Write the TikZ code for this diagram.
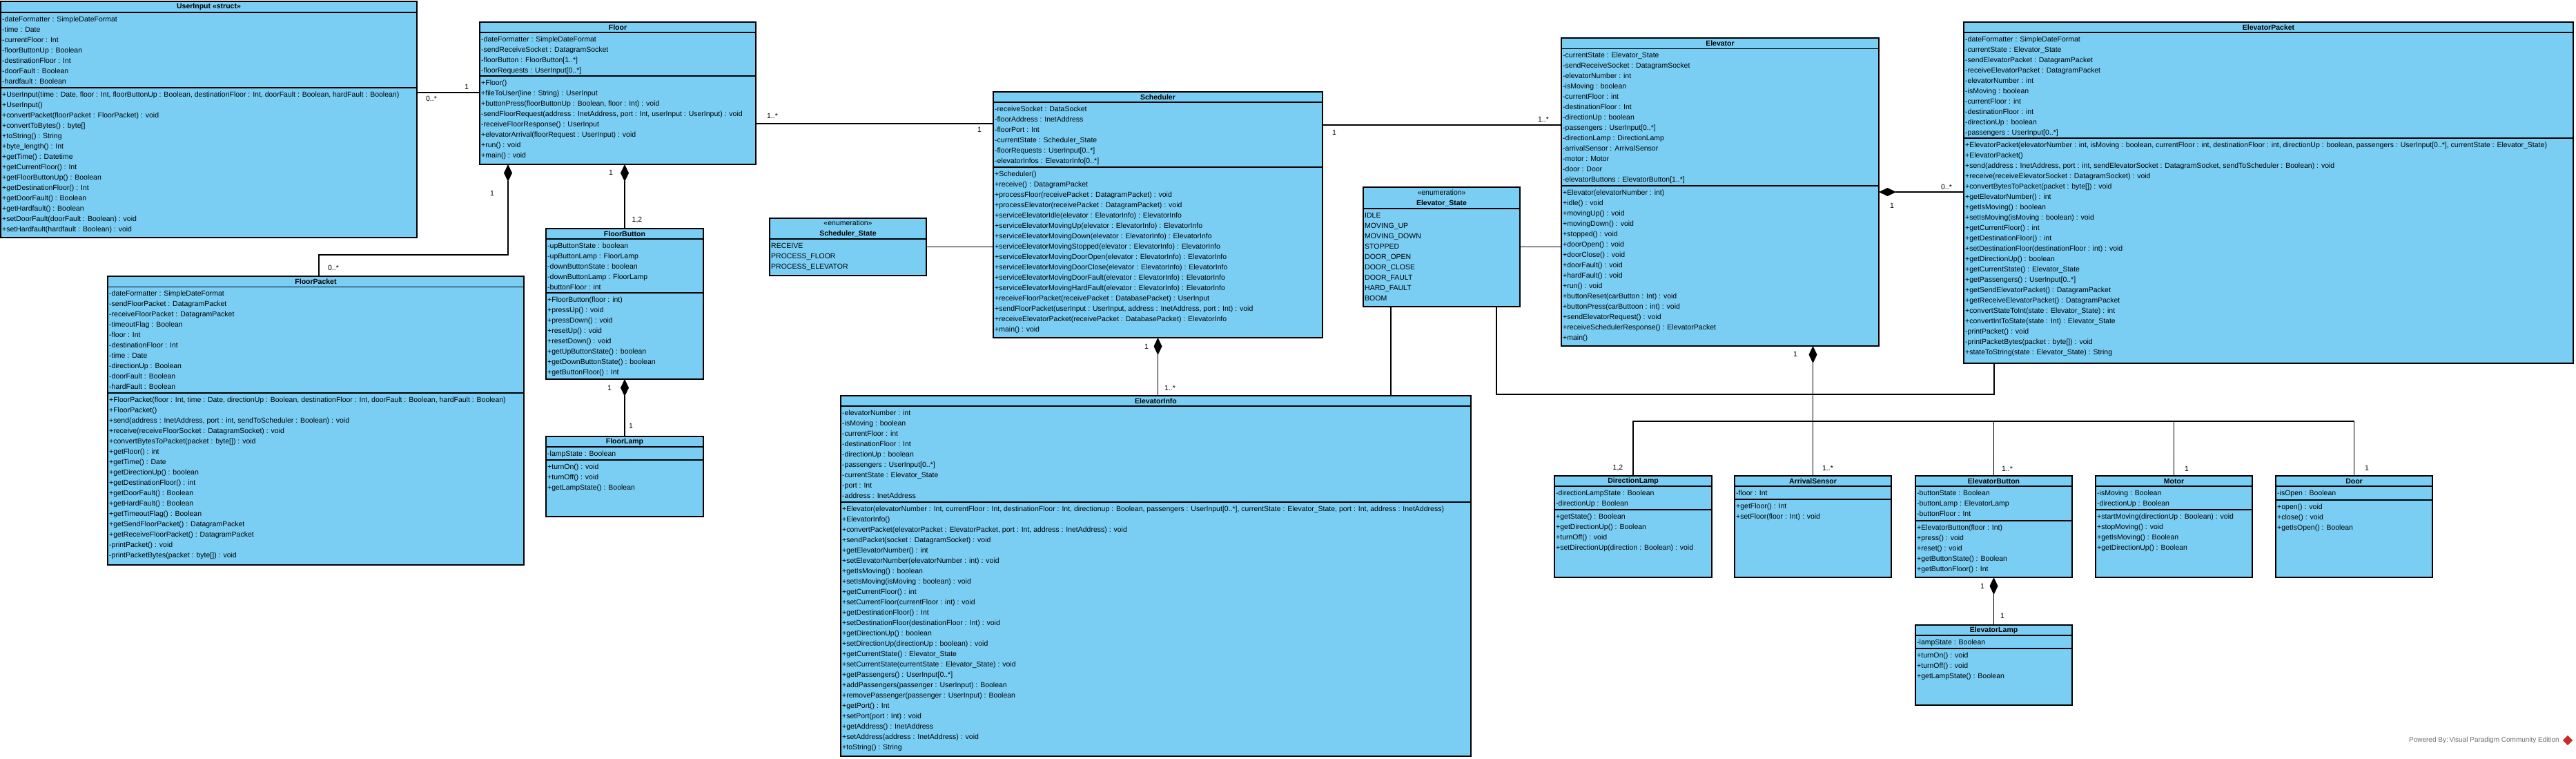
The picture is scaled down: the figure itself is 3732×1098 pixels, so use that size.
\documentclass[tikz,border=0pt]{standalone}
\usepackage{fontspec}
\setmainfont{Liberation Sans}
\usetikzlibrary{arrows.meta,calc}
\definecolor{classfill}{RGB}{122,206,244}
\definecolor{footgray}{RGB}{110,110,110}
\definecolor{vpred}{RGB}{204,40,40}
\newcommand{\rowfont}{\fontsize{10.5}{15}\selectfont}
% box, title
\newcommand{\umlclass}[7]{%
  \node[classbox,minimum width=#4pt,minimum height=#5pt] (#1) at (#2,-#3) {};
  \node[classtitle] (#1-title) at ($(#1.north)+(0,-#6/2)$) {#7};
}
% separator line and rows below it
\newcommand{\umlpart}[4]{%
  \draw[classline] ([yshift=-#3pt]#1.north west) -- ([yshift=-#3pt]#1.north east);
  \node[rows] (#1-#2) at ([xshift=2pt,yshift=-#3pt-2.5pt]#1.north west) {\strut#4};
}
\newcommand{\multlabel}[4]{\node[mult] (#1) at (#2,-#3) {#4};}
\begin{document}
\begin{tikzpicture}[x=1pt,y=1pt,
  classbox/.style={draw,fill=classfill,line width=1.3pt,anchor=north west,inner sep=0pt,outer sep=0pt},
  classline/.style={line width=1.3pt},
  classtitle/.style={font=\rowfont\bfseries,align=center,inner sep=0pt},
  rows/.style={font=\rowfont,align=left,anchor=north west,inner sep=0pt},
  assoc/.style={line width=1.1pt},
  comp/.style={line width=1.1pt,-{Diamond[length=25pt,width=12pt]}},
  mult/.style={font=\rowfont,inner sep=0pt},
  footer/.style={font=\fontsize{10}{12}\selectfont,text=footgray,inner sep=0pt,anchor=east},
  logo/.style={fill=vpred,minimum size=10pt,inner sep=0pt,rotate=45}]
\useasboundingbox[fill=white] (0,0) rectangle (3732,-1098);

\umlclass{UserInput}{1}{2}{603}{342}{16}{UserInput <<struct>>}
\umlpart{UserInput}{attr}{16}{-dateFormatter : SimpleDateFormat\\-time : Date\\-currentFloor : Int\\-floorButtonUp : Boolean\\-destinationFloor : Int\\-doorFault : Boolean\\-hardfault : Boolean}
\umlpart{UserInput}{op}{125}{+UserInput(time : Date, floor : Int, floorButtonUp : Boolean, destinationFloor : Int, doorFault : Boolean, hardFault : Boolean)\\+UserInput()\\+convertPacket(floorPacket : FloorPacket) : void\\+convertToBytes() : byte[]\\+toString() : String\\+byte\_length() : Int\\+getTime() : Datetime\\+getCurrentFloor() : Int\\+getFloorButtonUp() : Boolean\\+getDestinationFloor() : Int\\+getDoorFault() : Boolean\\+getHardfault() : Boolean\\+setDoorFault(doorFault : Boolean) : void\\+setHardfault(hardfault : Boolean) : void}

\umlclass{Floor}{695}{32}{400}{206}{15}{Floor}
\umlpart{Floor}{attr}{15}{-dateFormatter : SimpleDateFormat\\-sendReceiveSocket : DatagramSocket\\-floorButton : FloorButton[1..*]\\-floorRequests : UserInput[0..*]}
\umlpart{Floor}{op}{78}{+Floor()\\+fileToUser(line : String) : UserInput\\+buttonPress(floorButtonUp : Boolean, floor : Int) : void\\-sendFloorRequest(address : InetAddress, port : Int, userInput : UserInput) : void\\-receiveFloorResponse() : UserInput\\+elevatorArrival(floorRequest : UserInput) : void\\+run() : void\\+main() : void}

\umlclass{FloorPacket}{156}{400}{603}{418}{15.5}{FloorPacket}
\umlpart{FloorPacket}{attr}{15.5}{-dateFormatter : SimpleDateFormat\\-sendFloorPacket : DatagramPacket\\-receiveFloorPacket : DatagramPacket\\-timeoutFlag : Boolean\\-floor : Int\\-destinationFloor : Int\\-time : Date\\-directionUp : Boolean\\-doorFault : Boolean\\-hardFault : Boolean}
\umlpart{FloorPacket}{op}{169}{+FloorPacket(floor : Int, time : Date, directionUp : Boolean, destinationFloor : Int, doorFault : Boolean, hardFault : Boolean)\\+FloorPacket()\\+send(address : InetAddress, port : int, sendToScheduler : Boolean) : void\\+receive(receiveFloorSocket : DatagramSocket) : void\\+convertBytesToPacket(packet : byte[]) : void\\+getFloor() : int\\+getTime() : Date\\+getDirectionUp() : boolean\\+getDestinationFloor() : int\\+getDoorFault() : Boolean\\+getHardFault() : Boolean\\+getTimeoutFlag() : Boolean\\+getSendFloorPacket() : DatagramPacket\\+getReceiveFloorPacket() : DatagramPacket\\-printPacket() : void\\-printPacketBytes(packet : byte[]) : void}

\umlclass{FloorButton}{791}{331}{228}{218}{15}{FloorButton}
\umlpart{FloorButton}{attr}{15}{-upButtonState : boolean\\-upButtonLamp : FloorLamp\\-downButtonState : boolean\\-downButtonLamp : FloorLamp\\-buttonFloor : int}
\umlpart{FloorButton}{op}{93}{+FloorButton(floor : int)\\+pressUp() : void\\+pressDown() : void\\+resetUp() : void\\+resetDown() : void\\+getUpButtonState() : boolean\\+getDownButtonState() : boolean\\+getButtonFloor() : Int}

\umlclass{FloorLamp}{791}{632}{228}{116}{15}{FloorLamp}
\umlpart{FloorLamp}{attr}{15}{-lampState : Boolean}
\umlpart{FloorLamp}{op}{34}{+turnOn() : void\\+turnOff() : void\\+getLampState() : Boolean}

\umlclass{Scheduler}{1439}{133}{477}{356}{15}{Scheduler}
\umlpart{Scheduler}{attr}{15}{-receiveSocket : DataSocket\\-floorAddress : InetAddress\\-floorPort : Int\\-currentState : Scheduler\_State\\-floorRequests : UserInput[0..*]\\-elevatorInfos : ElevatorInfo[0..*]}
\umlpart{Scheduler}{op}{109}{+Scheduler()\\+receive() : DatagramPacket\\+processFloor(receivePacket : DatagramPacket) : void\\+processElevator(receivePacket : DatagramPacket) : void\\+serviceElevatorIdle(elevator : ElevatorInfo) : ElevatorInfo\\+serviceElevatorMovingUp(elevator : ElevatorInfo) : ElevatorInfo\\+serviceElevatorMovingDown(elevator : ElevatorInfo) : ElevatorInfo\\+serviceElevatorMovingStopped(elevator : ElevatorInfo) : ElevatorInfo\\+serviceElevatorMovingDoorOpen(elevator : ElevatorInfo) : ElevatorInfo\\+serviceElevatorMovingDoorClose(elevator : ElevatorInfo) : ElevatorInfo\\+serviceElevatorMovingDoorFault(elevator : ElevatorInfo) : ElevatorInfo\\+serviceElevatorMovingHardFault(elevator : ElevatorInfo) : ElevatorInfo\\+receiveFloorPacket(receivePacket : DatabasePacket) : UserInput\\+sendFloorPacket(userInput : UserInput, address : InetAddress, port : Int) : void\\+receiveElevatorPacket(receivePacket : DatabasePacket) : ElevatorInfo\\+main() : void}

\umlclass{SchedulerState}{1115}{316}{227}{83}{30}{{\mdseries <<enumeration>>}\\Scheduler\_State}
\umlpart{SchedulerState}{items}{30}{RECEIVE\\PROCESS\_FLOOR\\PROCESS\_ELEVATOR}

\umlclass{ElevatorInfo}{1218}{573}{913}{522}{15}{ElevatorInfo}
\umlpart{ElevatorInfo}{attr}{15}{-elevatorNumber : int\\-isMoving : boolean\\-currentFloor : int\\-destinationFloor : Int\\-directionUp : boolean\\-passengers : UserInput[0..*]\\-currentState : Elevator\_State\\-port : Int\\-address : InetAddress}
\umlpart{ElevatorInfo}{op}{154}{+Elevator(elevatorNumber : Int, currentFloor : Int, destinationFloor : Int, directionup : Boolean, passengers : UserInput[0..*], currentState : Elevator\_State, port : Int, address : InetAddress)\\+ElevatorInfo()\\+convertPacket(elevatorPacket : ElevatorPacket, port : Int, address : InetAddress) : void\\+sendPacket(socket : DatagramSocket) : void\\+getElevatorNumber() : int\\+setElevatorNumber(elevatorNumber : int) : void\\+getIsMoving() : boolean\\+setIsMoving(isMoving : boolean) : void\\+getCurrentFloor() : int\\+setCurrentFloor(currentFloor : int) : void\\+getDestinationFloor() : Int\\+setDestinationFloor(destinationFloor : Int) : void\\+getDirectionUp() : boolean\\+setDirectionUp(directionUp : boolean) : void\\+getCurrentState() : Elevator\_State\\+setCurrentState(currentState : Elevator\_State) : void\\+getPassengers() : UserInput[0..*]\\+addPassengers(passenger : UserInput) : Boolean\\+removePassenger(passenger : UserInput) : Boolean\\+getPort() : Int\\+setPort(port : Int) : void\\+getAddress() : InetAddress\\+setAddress(address : InetAddress) : void\\+toString() : String}

\umlclass{ElevatorState}{1975}{271}{227}{173}{31}{{\mdseries <<enumeration>>}\\Elevator\_State}
\umlpart{ElevatorState}{items}{31}{IDLE\\MOVING\_UP\\MOVING\_DOWN\\STOPPED\\DOOR\_OPEN\\DOOR\_CLOSE\\DOOR\_FAULT\\HARD\_FAULT\\BOOM}

\umlclass{Elevator}{2262}{55}{460}{446}{15.5}{Elevator}
\umlpart{Elevator}{attr}{15.5}{-currentState : Elevator\_State\\-sendReceiveSocket : DatagramSocket\\-elevatorNumber : int\\-isMoving : boolean\\-currentFloor : int\\-destinationFloor : Int\\-directionUp : boolean\\-passengers : UserInput[0..*]\\-directionLamp : DirectionLamp\\-arrivalSensor : ArrivalSensor\\-motor : Motor\\-door : Door\\-elevatorButtons : ElevatorButton[1..*]}
\umlpart{Elevator}{op}{214}{+Elevator(elevatorNumber : int)\\+idle() : void\\+movingUp() : void\\+movingDown() : void\\+stopped() : void\\+doorOpen() : void\\+doorClose() : void\\+doorFault() : void\\+hardFault() : void\\+run() : void\\+buttonReset(carButton : Int) : void\\+buttonPress(carButtoon : int) : void\\+sendElevatorRequest() : void\\+receiveSchedulerResponse() : ElevatorPacket\\+main()}

\umlclass{ElevatorPacket}{2845}{32}{883}{494}{15}{ElevatorPacket}
\umlpart{ElevatorPacket}{attr}{15}{-dateFormatter : SimpleDateFormat\\-currentState : Elevator\_State\\-sendElevatorPacket : DatagramPacket\\-receiveElevatorPacket : DatagramPacket\\-elevatorNumber : int\\-isMoving : boolean\\-currentFloor : int\\-destinationFloor : int\\-directionUp : boolean\\-passengers : UserInput[0..*]}
\umlpart{ElevatorPacket}{op}{168}{+ElevatorPacket(elevatorNumber : int, isMoving : boolean, currentFloor : int, destinationFloor : int, directionUp : boolean, passengers : UserInput[0..*], currentState : Elevator\_State)\\+ElevatorPacket()\\+send(address : InetAddress, port : int, sendElevatorSocket : DatagramSocket, sendToScheduler : Boolean) : void\\+receive(receiveElevatorSocket : DatagramSocket) : void\\+convertBytesToPacket(packet : byte[]) : void\\+getElevatorNumber() : int\\+getIsMoving() : boolean\\+setIsMoving(isMoving : boolean) : void\\+getCurrentFloor() : int\\+getDestinationFloor() : int\\+setDestinationFloor(destinationFloor : int) : void\\+getDirectionUp() : boolean\\+getCurrentState() : Elevator\_State\\+getPassengers() : UserInput[0..*]\\+getSendElevatorPacket() : DatagramPacket\\+getReceiveElevatorPacket() : DatagramPacket\\+convertStateToInt(state : Elevator\_State) : int\\+convertIntToState(state : Int) : Elevator\_State\\-printPacket() : void\\-printPacketBytes(packet : byte[]) : void\\+stateToString(state : Elevator\_State) : String}

\umlclass{DirectionLamp}{2252}{689}{228}{147}{15}{DirectionLamp}
\umlpart{DirectionLamp}{attr}{15}{-directionLampState : Boolean\\-directionUp : Boolean}
\umlpart{DirectionLamp}{op}{49}{+getState() : Boolean\\+getDirectionUp() : Boolean\\+turnOff() : void\\+setDirectionUp(direction : Boolean) : void}

\umlclass{ArrivalSensor}{2513}{689}{227}{147}{15}{ArrivalSensor}
\umlpart{ArrivalSensor}{attr}{15}{-floor : Int}
\umlpart{ArrivalSensor}{op}{34}{+getFloor() : Int\\+setFloor(floor : Int) : void}

\umlclass{ElevatorButton}{2775}{689}{227}{147}{15}{ElevatorButton}
\umlpart{ElevatorButton}{attr}{15}{-buttonState : Boolean\\-buttonLamp : ElevatorLamp\\-buttonFloor : Int}
\umlpart{ElevatorButton}{op}{65}{+ElevatorButton(floor : Int)\\+press() : void\\+reset() : void\\+getButtonState() : Boolean\\+getButtonFloor() : Int}

\umlclass{Motor}{3036}{689}{227}{147}{15}{Motor}
\umlpart{Motor}{attr}{15}{-isMoving : Boolean\\-directionUp : Boolean}
\umlpart{Motor}{op}{49}{+startMoving(directionUp : Boolean) : void\\+stopMoving() : void\\+getIsMoving() : Boolean\\+getDirectionUp() : Boolean}

\umlclass{Door}{3297}{689}{227}{147}{15}{Door}
\umlpart{Door}{attr}{15}{-isOpen : Boolean}
\umlpart{Door}{op}{35}{+open() : void\\+close() : void\\+getIsOpen() : Boolean}

\umlclass{ElevatorLamp}{2775}{905}{227}{116}{15}{ElevatorLamp}
\umlpart{ElevatorLamp}{attr}{15}{-lampState : Boolean}
\umlpart{ElevatorLamp}{op}{34}{+turnOn() : void\\+turnOff() : void\\+getLampState() : Boolean}

% connectors
\draw[assoc] ([yshift=-132pt]UserInput.north east) coordinate (ui-fl) -- (ui-fl -| Floor.west);
\draw[assoc] ([yshift=-147pt]Floor.north east) coordinate (fl-sc) -- (fl-sc -| Scheduler.west);
\coordinate (fl-fp) at ([xshift=-159pt]Floor.south);
\draw[comp] ([xshift=4.5pt]FloorPacket.north) |- ([yshift=-131pt]fl-fp) -- (fl-fp);
\draw[comp] (FloorButton.north) -- (FloorButton.north |- Floor.south);
\draw[comp] (FloorLamp.north) -- (FloorButton.south);
\draw[assoc] (SchedulerState.east) -- (SchedulerState.east -| Scheduler.west);
\draw[comp] (Scheduler.south |- ElevatorInfo.north) -- (Scheduler.south);
\draw[assoc] ([yshift=-48pt]Scheduler.north east) coordinate (sc-el) -- (sc-el -| Elevator.west);
\draw[assoc] (ElevatorState.east) -- (ElevatorState.east -| Elevator.west);
\draw[assoc] ([xshift=40pt]ElevatorState.south west) coordinate (es-ei) -- (es-ei |- ElevatorInfo.north);
\draw[assoc] ([xshift=193pt]ElevatorState.south west) |- ([xshift=44pt,yshift=-45pt]ElevatorPacket.south west) -- ([xshift=44pt]ElevatorPacket.south west);
\draw[comp] ([yshift=-246pt]ElevatorPacket.north west) coordinate (ep-el) -- (ep-el -| Elevator.east);
\draw[comp] (ArrivalSensor.north) -- (ArrivalSensor.north |- Elevator.south);
\coordinate (bus) at ([yshift=79pt]ArrivalSensor.north);
\draw[assoc] (DirectionLamp.north) |- (bus) -| (Door.north);
\draw[assoc] (ElevatorButton.north) -- (ElevatorButton.north |- bus);
\draw[assoc] (Motor.north) -- (Motor.north |- bus);
\draw[comp] (ElevatorLamp.north) -- (ElevatorButton.south);

% multiplicities
\multlabel{m1}{625}{143}{0..*}
\multlabel{m2}{676}{126}{1}
\multlabel{m3}{1119}{168}{1..*}
\multlabel{m4}{1419}{188}{1}
\multlabel{m5}{713}{280}{1}
\multlabel{m6}{483}{388}{0..*}
\multlabel{m7}{885}{250}{1}
\multlabel{m8}{923}{318}{1,2}
\multlabel{m9}{883}{562}{1}
\multlabel{m10}{914}{617}{1}
\multlabel{m11}{1661}{502}{1}
\multlabel{m12}{1695}{562}{1..*}
\multlabel{m13}{1933}{192}{1}
\multlabel{m14}{2236}{173}{1..*}
\multlabel{m15}{2741}{298}{1}
\multlabel{m16}{2820}{271}{0..*}
\multlabel{m17}{2601}{513}{1}
\multlabel{m18}{2344}{677}{1,2}
\multlabel{m19}{2648}{678}{1..*}
\multlabel{m20}{2908}{679}{1..*}
\multlabel{m21}{3168}{679}{1}
\multlabel{m22}{3429}{678}{1}
\multlabel{m23}{2872}{849}{1}
\multlabel{m24}{2901}{892}{1}

\node[footer] (powered) at (3708,-1072) {Powered By:\,Visual Paradigm Community Edition};
\node[logo] (vplogo) at (3720,-1072) {};
\end{tikzpicture}
\end{document}
